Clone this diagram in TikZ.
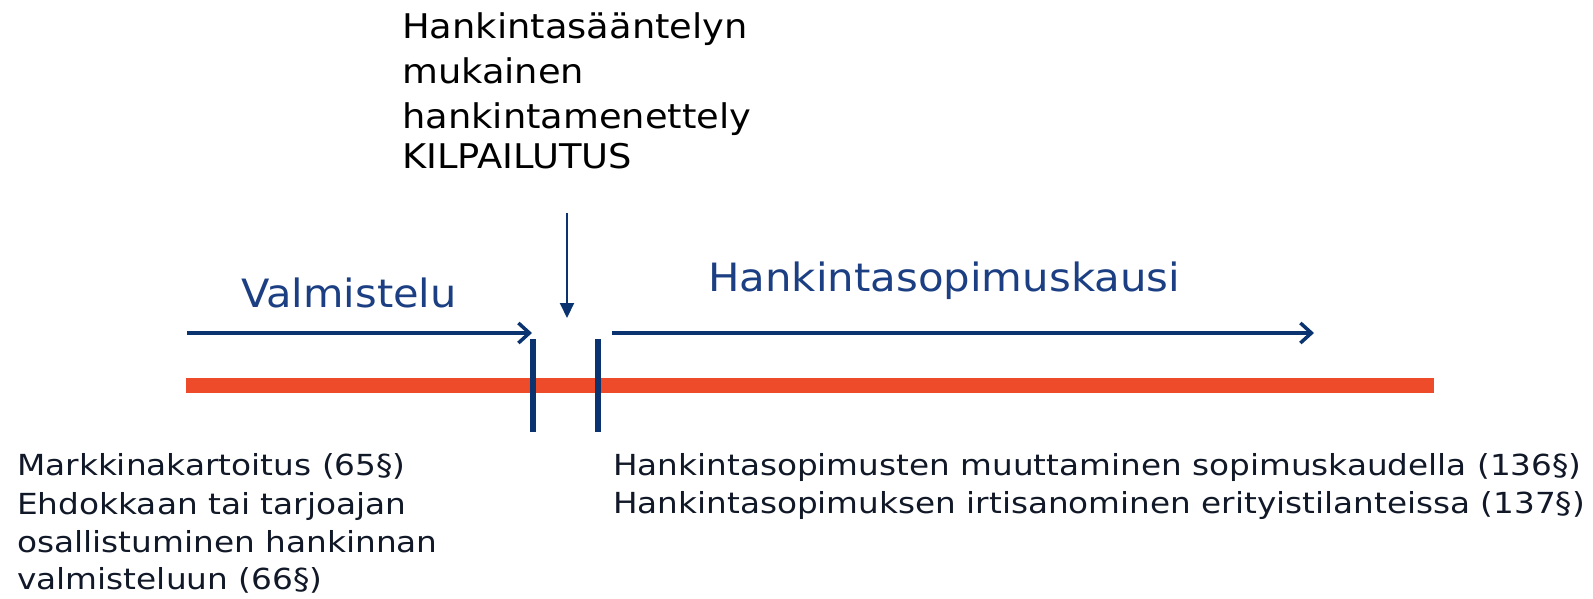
\documentclass[tikz,border=0pt]{standalone}
\usepackage{fontspec}
\setmainfont{DejaVu Sans}
\usetikzlibrary{arrows.meta}
\definecolor{navy}{HTML}{0B3370}
\definecolor{orangered}{HTML}{EE4B2B}
\definecolor{titleblue}{HTML}{1B3F82}
\definecolor{textdark}{HTML}{111827}
\newcommand{\wtext}[2]{\scalebox{#1}[1]{#2}}
\tikzset{
  phase/.style={-{Straight Barb[length=11pt,width=20pt,line width=3.5pt]}, line width=3.3pt, draw=navy},
  marker/.style={line width=6pt, draw=navy},
  timeline/.style={line width=15pt, draw=orangered},
  pointer/.style={-{Triangle[length=15pt,width=14pt]}, line width=2pt, draw=navy},
  phaselabel/.style={inner sep=0, anchor=base west, text=titleblue, font=\fontsize{39}{44}\selectfont},
  toptext/.style={inner sep=0, anchor=base west, text=black, font=\fontsize{34}{44}\selectfont},
  bottext/.style={inner sep=0, anchor=base west, text=textdark, font=\fontsize{29}{40}\selectfont},
}
\begin{document}
\begin{tikzpicture}[x=1pt,y=-1pt]
\useasboundingbox (0,0) rectangle (1593,598);
% timeline
\coordinate (tl0) at (186,385);
\coordinate (tl1) at (1434,385);
\draw[timeline] (tl0) -- (tl1);
% markers
\coordinate (m1a) at (533,339);
\coordinate (m1b) at (533,432);
\coordinate (m2a) at (598,339);
\coordinate (m2b) at (598,432);
\draw[marker] (m1a) -- (m1b);
\draw[marker] (m2a) -- (m2b);
% phase arrows
\coordinate (v0) at (187,333);
\coordinate (v1) at (532,333);
\draw[phase] (v0) -- (v1);
\coordinate (h0) at (612,333);
\coordinate (h1) at (1314,333);
\draw[phase] (h0) -- (h1);
% pointer
\coordinate (p0) at (567,213);
\coordinate (p1) at (567,318);
\draw[pointer] (p0) -- (p1);
% labels
\node[phaselabel] (valm) at (241,307) {\wtext{1.065}{Valmistelu}};
\node[phaselabel] (kausi) at (708,291) {\wtext{1.073}{Hankintasopimuskausi}};
\node[toptext] (t1) at (402,38) {\wtext{1.083}{Hankintasääntelyn}};
\node[toptext] (t2) at (402,83) {\wtext{1.083}{mukainen}};
\node[toptext] (t3) at (402,128) {\wtext{1.083}{hankintamenettely}};
\node[toptext] (t4) at (402,168) {\wtext{1.083}{KILPAILUTUS}};
\node[bottext] (b1) at (17,475) {\wtext{1.13}{Markkinakartoitus (65§)}};
\node[bottext] (b2) at (17,514) {\wtext{1.13}{Ehdokkaan tai tarjoajan}};
\node[bottext] (b3) at (17,552) {\wtext{1.13}{osallistuminen hankinnan}};
\node[bottext] (b4) at (17,589) {\wtext{1.13}{valmisteluun (66§)}};
\node[bottext] (r1) at (613,475) {\wtext{1.127}{Hankintasopimusten muuttaminen sopimuskaudella (136§)}};
\node[bottext] (r2) at (613,513) {\wtext{1.127}{Hankintasopimuksen irtisanominen erityistilanteissa (137§)}};
\end{tikzpicture}
\end{document}
